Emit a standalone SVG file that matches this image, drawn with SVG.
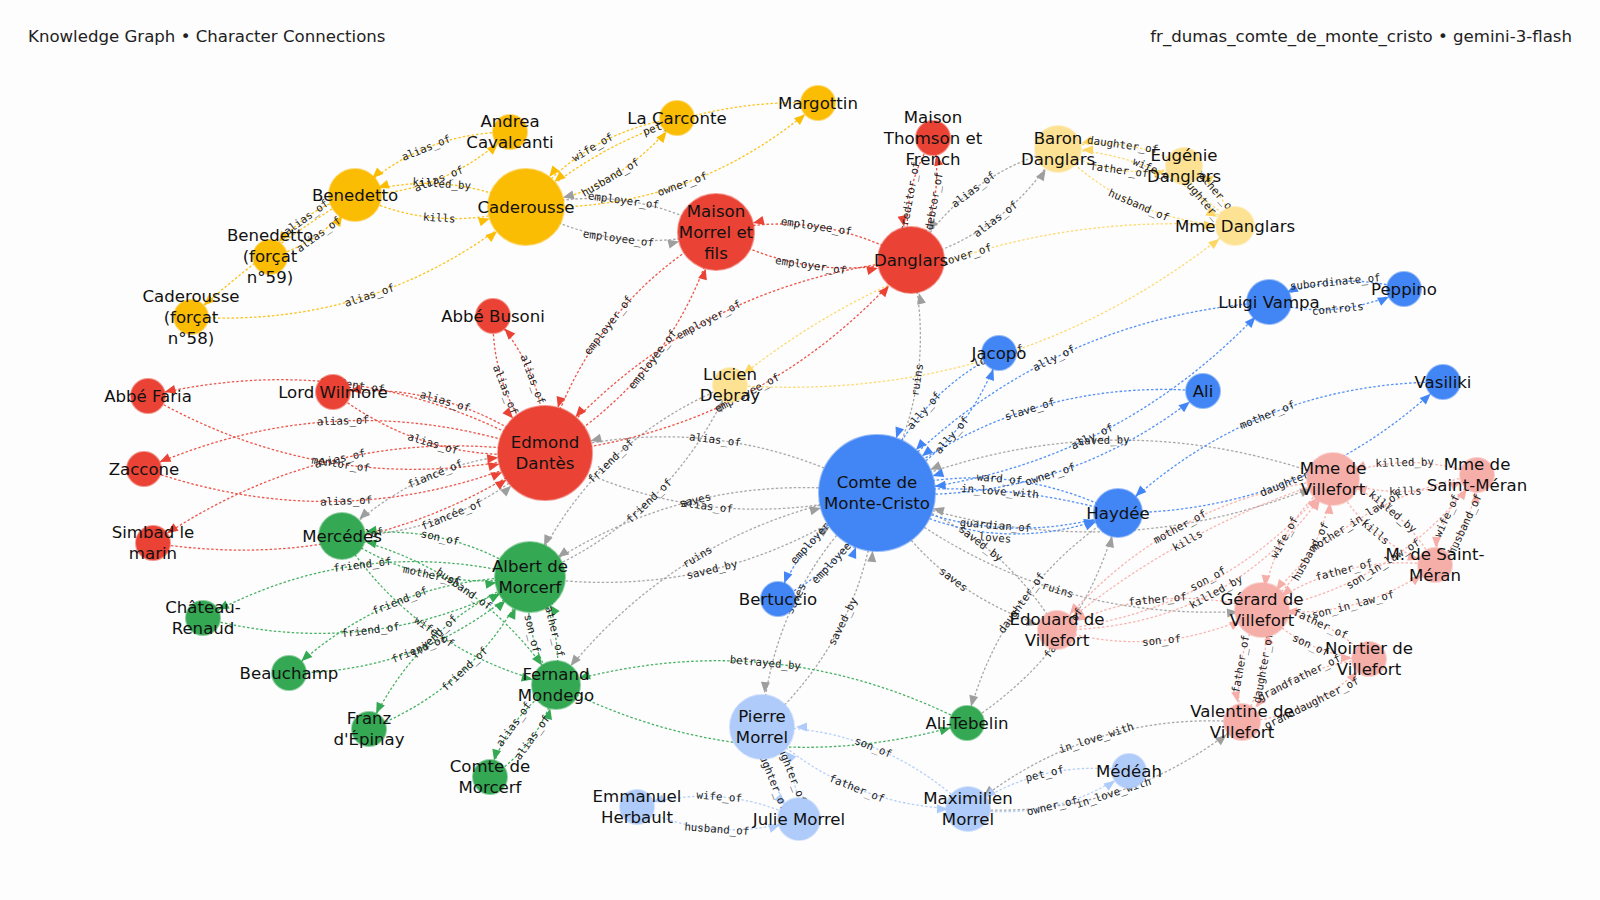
<svg xmlns="http://www.w3.org/2000/svg" width="1600" height="900" viewBox="0 0 1600 900">
<style>
.e{fill:none;stroke-width:1.3;stroke-dasharray:2.5 2;stroke-opacity:.9}
.yo{stroke:#fbbc04}.gy{stroke:#9e9e9e}.rd{stroke:#ea4335}.py{stroke:#fdd663}.bl{stroke:#4285f4}.gn{stroke:#34a853}.lb{stroke:#aecbfa}.pk{stroke:#f6aea9}
.el{font-family:"DejaVu Sans Mono","Liberation Mono",monospace;font-size:10.8px;fill:#222;text-anchor:middle;dominant-baseline:central}
.nl{font-family:"DejaVu Sans","Liberation Sans",sans-serif;font-size:16.6px;fill:#111;text-anchor:middle;dominant-baseline:central}
.n circle{stroke-width:2;stroke-opacity:.55}
.cyo{fill:#fbbc04;stroke:#fbbc04}.crd{fill:#ea4335;stroke:#ea4335}.cpy{fill:#fde293;stroke:#fde293}.cbl{fill:#4285f4;stroke:#4285f4}.cgn{fill:#34a853;stroke:#34a853}.clb{fill:#aecbfa;stroke:#aecbfa}.cpk{fill:#f6aea9;stroke:#f6aea9}
.title{font-family:"DejaVu Sans","Liberation Sans",sans-serif;font-size:16.6px;fill:#222;dominant-baseline:central}
</style>
<defs>
<marker id="yo17" markerUnits="userSpaceOnUse" orient="auto" overflow="visible" markerWidth="10" markerHeight="10"><path d="M-28,-4.5L-17,0L-28,4.5z" fill="#fbbc04"/></marker>
<marker id="yo24" markerUnits="userSpaceOnUse" orient="auto" overflow="visible" markerWidth="10" markerHeight="10"><path d="M-35,-4.5L-24,0L-35,4.5z" fill="#fbbc04"/></marker>
<marker id="yo38" markerUnits="userSpaceOnUse" orient="auto" overflow="visible" markerWidth="10" markerHeight="10"><path d="M-49,-4.5L-38,0L-49,4.5z" fill="#fbbc04"/></marker>
<marker id="gy17" markerUnits="userSpaceOnUse" orient="auto" overflow="visible" markerWidth="10" markerHeight="10"><path d="M-28,-4.5L-17,0L-28,4.5z" fill="#9e9e9e"/></marker>
<marker id="gy20" markerUnits="userSpaceOnUse" orient="auto" overflow="visible" markerWidth="10" markerHeight="10"><path d="M-31,-4.5L-20,0L-31,4.5z" fill="#9e9e9e"/></marker>
<marker id="gy24" markerUnits="userSpaceOnUse" orient="auto" overflow="visible" markerWidth="10" markerHeight="10"><path d="M-35,-4.5L-24,0L-35,4.5z" fill="#9e9e9e"/></marker>
<marker id="gy34" markerUnits="userSpaceOnUse" orient="auto" overflow="visible" markerWidth="10" markerHeight="10"><path d="M-45,-4.5L-34,0L-45,4.5z" fill="#9e9e9e"/></marker>
<marker id="gy38" markerUnits="userSpaceOnUse" orient="auto" overflow="visible" markerWidth="10" markerHeight="10"><path d="M-49,-4.5L-38,0L-49,4.5z" fill="#9e9e9e"/></marker>
<marker id="gy47" markerUnits="userSpaceOnUse" orient="auto" overflow="visible" markerWidth="10" markerHeight="10"><path d="M-58,-4.5L-47,0L-58,4.5z" fill="#9e9e9e"/></marker>
<marker id="gy58" markerUnits="userSpaceOnUse" orient="auto" overflow="visible" markerWidth="10" markerHeight="10"><path d="M-69,-4.5L-58,0L-69,4.5z" fill="#9e9e9e"/></marker>
<marker id="rd17" markerUnits="userSpaceOnUse" orient="auto" overflow="visible" markerWidth="10" markerHeight="10"><path d="M-28,-4.5L-17,0L-28,4.5z" fill="#ea4335"/></marker>
<marker id="rd34" markerUnits="userSpaceOnUse" orient="auto" overflow="visible" markerWidth="10" markerHeight="10"><path d="M-45,-4.5L-34,0L-45,4.5z" fill="#ea4335"/></marker>
<marker id="rd38" markerUnits="userSpaceOnUse" orient="auto" overflow="visible" markerWidth="10" markerHeight="10"><path d="M-49,-4.5L-38,0L-49,4.5z" fill="#ea4335"/></marker>
<marker id="rd47" markerUnits="userSpaceOnUse" orient="auto" overflow="visible" markerWidth="10" markerHeight="10"><path d="M-58,-4.5L-47,0L-58,4.5z" fill="#ea4335"/></marker>
<marker id="py17" markerUnits="userSpaceOnUse" orient="auto" overflow="visible" markerWidth="10" markerHeight="10"><path d="M-28,-4.5L-17,0L-28,4.5z" fill="#fdd663"/></marker>
<marker id="py20" markerUnits="userSpaceOnUse" orient="auto" overflow="visible" markerWidth="10" markerHeight="10"><path d="M-31,-4.5L-20,0L-31,4.5z" fill="#fdd663"/></marker>
<marker id="py24" markerUnits="userSpaceOnUse" orient="auto" overflow="visible" markerWidth="10" markerHeight="10"><path d="M-35,-4.5L-24,0L-35,4.5z" fill="#fdd663"/></marker>
<marker id="bl17" markerUnits="userSpaceOnUse" orient="auto" overflow="visible" markerWidth="10" markerHeight="10"><path d="M-28,-4.5L-17,0L-28,4.5z" fill="#4285f4"/></marker>
<marker id="bl20" markerUnits="userSpaceOnUse" orient="auto" overflow="visible" markerWidth="10" markerHeight="10"><path d="M-31,-4.5L-20,0L-31,4.5z" fill="#4285f4"/></marker>
<marker id="bl24" markerUnits="userSpaceOnUse" orient="auto" overflow="visible" markerWidth="10" markerHeight="10"><path d="M-35,-4.5L-24,0L-35,4.5z" fill="#4285f4"/></marker>
<marker id="bl58" markerUnits="userSpaceOnUse" orient="auto" overflow="visible" markerWidth="10" markerHeight="10"><path d="M-69,-4.5L-58,0L-69,4.5z" fill="#4285f4"/></marker>
<marker id="gn17" markerUnits="userSpaceOnUse" orient="auto" overflow="visible" markerWidth="10" markerHeight="10"><path d="M-28,-4.5L-17,0L-28,4.5z" fill="#34a853"/></marker>
<marker id="gn24" markerUnits="userSpaceOnUse" orient="auto" overflow="visible" markerWidth="10" markerHeight="10"><path d="M-35,-4.5L-24,0L-35,4.5z" fill="#34a853"/></marker>
<marker id="gn34" markerUnits="userSpaceOnUse" orient="auto" overflow="visible" markerWidth="10" markerHeight="10"><path d="M-45,-4.5L-34,0L-45,4.5z" fill="#34a853"/></marker>
<marker id="lb17" markerUnits="userSpaceOnUse" orient="auto" overflow="visible" markerWidth="10" markerHeight="10"><path d="M-28,-4.5L-17,0L-28,4.5z" fill="#aecbfa"/></marker>
<marker id="lb20" markerUnits="userSpaceOnUse" orient="auto" overflow="visible" markerWidth="10" markerHeight="10"><path d="M-31,-4.5L-20,0L-31,4.5z" fill="#aecbfa"/></marker>
<marker id="lb34" markerUnits="userSpaceOnUse" orient="auto" overflow="visible" markerWidth="10" markerHeight="10"><path d="M-45,-4.5L-34,0L-45,4.5z" fill="#aecbfa"/></marker>
<marker id="pk17" markerUnits="userSpaceOnUse" orient="auto" overflow="visible" markerWidth="10" markerHeight="10"><path d="M-28,-4.5L-17,0L-28,4.5z" fill="#f6aea9"/></marker>
<marker id="pk20" markerUnits="userSpaceOnUse" orient="auto" overflow="visible" markerWidth="10" markerHeight="10"><path d="M-31,-4.5L-20,0L-31,4.5z" fill="#f6aea9"/></marker>
<marker id="pk24" markerUnits="userSpaceOnUse" orient="auto" overflow="visible" markerWidth="10" markerHeight="10"><path d="M-35,-4.5L-24,0L-35,4.5z" fill="#f6aea9"/></marker>
</defs>
<rect width="1600" height="900" fill="#fdfdfd"/>
<text class="title" x="28" y="36">Knowledge Graph • Character Connections</text>
<text class="title" x="1572" y="36" text-anchor="end">fr_dumas_comte_de_monte_cristo • gemini-3-flash</text>
<g id="connectors">
<path class="e yo" d="M510,132 Q419.9,132.5 355,195" marker-end="url(#yo24)"/>
<path class="e yo" d="M355,195 Q445.1,194.5 510,132" marker-end="url(#yo17)"/>
<path class="e yo" d="M526,207 Q442.9,166.8 355,195" marker-end="url(#yo24)"/>
<path class="e yo" d="M355,195 Q438.1,235.2 526,207" marker-end="url(#yo38)"/>
<path class="e yo" d="M270,257 Q324.9,243 355,195" marker-end="url(#yo24)"/>
<path class="e yo" d="M355,195 Q300.1,209 270,257" marker-end="url(#yo17)"/>
<path class="e yo" d="M355,195 Q270,245 191,317" marker-end="url(#yo17)"/>
<path class="e yo" d="M191,317 Q380.5,329 526,207" marker-end="url(#yo38)"/>
<path class="e yo" d="M677,118 Q583.7,132.3 526,207" marker-end="url(#yo38)"/>
<path class="e yo" d="M526,207 Q619.3,192.7 677,118" marker-end="url(#yo17)"/>
<path class="e yo" d="M526,207 Q692.8,213.4 818,103" marker-end="url(#yo17)"/>
<path class="e yo" d="M818,103 Q651.2,96.6 526,207" marker-end="url(#yo38)"/>
<path class="e gy" d="M716,232 Q626,181.5 526,207" marker-end="url(#gy38)"/>
<path class="e gy" d="M526,207 Q616,257.5 716,232" marker-end="url(#gy38)"/>
<path class="e gy" d="M1058,149 Q962.3,175.1 911,260" marker-end="url(#gy34)"/>
<path class="e gy" d="M911,260 Q1006.7,233.9 1058,149" marker-end="url(#gy24)"/>
<path class="e gy" d="M730,385 Q591.6,441 530,577" marker-end="url(#gy34)"/>
<path class="e gy" d="M530,577 Q668.4,521 730,385" marker-end="url(#gy17)"/>
<path class="e gy" d="M545,453 Q426.9,453.9 342,536" marker-end="url(#gy24)"/>
<path class="e gy" d="M342,536 Q460.1,535.1 545,453" marker-end="url(#gy47)"/>
<path class="e gy" d="M877,493 Q719,406.6 545,453" marker-end="url(#gy47)"/>
<path class="e gy" d="M545,453 Q703,539.4 877,493" marker-end="url(#gy58)"/>
<path class="e gy" d="M530,577 Q720.3,604.4 877,493" marker-end="url(#gy58)"/>
<path class="e gy" d="M877,493 Q686.7,465.6 530,577" marker-end="url(#gy34)"/>
<path class="e gy" d="M877,493 Q678.1,524.8 556,685" marker-end="url(#gy24)"/>
<path class="e gy" d="M877,493 Q940.6,383.3 911,260" marker-end="url(#gy34)"/>
<path class="e gy" d="M1333,479 Q1102.2,394.8 877,493" marker-end="url(#gy58)"/>
<path class="e gy" d="M877,493 Q1107.8,577.2 1333,479" marker-end="url(#gy24)"/>
<path class="e gy" d="M762,727 Q866.3,633 877,493" marker-end="url(#gy58)"/>
<path class="e gy" d="M877,493 Q772.7,587 762,727" marker-end="url(#gy34)"/>
<path class="e gy" d="M1118,513 Q1000.5,587.8 967,723" marker-end="url(#gy17)"/>
<path class="e gy" d="M967,723 Q1084.5,648.2 1118,513" marker-end="url(#gy24)"/>
<path class="e gy" d="M877,493 Q939.6,597.5 1057,630" marker-end="url(#gy20)"/>
<path class="e gy" d="M1057,630 Q994.4,525.5 877,493" marker-end="url(#gy58)"/>
<path class="e gy" d="M877,493 Q1046.1,628.5 1262,610" marker-end="url(#gy24)"/>
<path class="e gy" d="M968,809 Q1122.4,820.3 1242,722" marker-end="url(#gy20)"/>
<path class="e gy" d="M1242,722 Q1087.6,710.7 968,809" marker-end="url(#gy20)"/>
<path class="e rd" d="M911,260 Q819.1,207 716,232" marker-end="url(#rd38)"/>
<path class="e rd" d="M716,232 Q807.9,285 911,260" marker-end="url(#rd34)"/>
<path class="e rd" d="M933,138 Q897.6,194.6 911,260" marker-end="url(#rd34)"/>
<path class="e rd" d="M911,260 Q946.4,203.4 933,138" marker-end="url(#rd17)"/>
<path class="e rd" d="M911,260 Q689.4,283.3 545,453" marker-end="url(#rd47)"/>
<path class="e rd" d="M545,453 Q766.6,429.7 911,260" marker-end="url(#rd34)"/>
<path class="e rd" d="M716,232 Q586.3,308.3 545,453" marker-end="url(#rd47)"/>
<path class="e rd" d="M545,453 Q674.7,376.7 716,232" marker-end="url(#rd38)"/>
<path class="e rd" d="M545,453 Q357.9,345.1 148,396" marker-end="url(#rd17)"/>
<path class="e rd" d="M148,396 Q335.1,503.9 545,453" marker-end="url(#rd47)"/>
<path class="e rd" d="M333,392 Q426.8,464.9 545,453" marker-end="url(#rd47)"/>
<path class="e rd" d="M545,453 Q451.2,380.1 333,392" marker-end="url(#rd17)"/>
<path class="e rd" d="M144,469 Q347.7,541.2 545,453" marker-end="url(#rd47)"/>
<path class="e rd" d="M545,453 Q341.3,380.8 144,469" marker-end="url(#rd17)"/>
<path class="e rd" d="M153,543 Q367,576.4 545,453" marker-end="url(#rd47)"/>
<path class="e rd" d="M545,453 Q331,419.6 153,543" marker-end="url(#rd17)"/>
<path class="e rd" d="M493,316 Q491.6,394.9 545,453" marker-end="url(#rd47)"/>
<path class="e rd" d="M545,453 Q546.4,374.1 493,316" marker-end="url(#rd17)"/>
<path class="e py" d="M1235,226 Q950.7,204.5 730,385" marker-end="url(#py17)"/>
<path class="e py" d="M730,385 Q1014.3,406.5 1235,226" marker-end="url(#py20)"/>
<path class="e py" d="M1184,166 Q1124.4,132.3 1058,149" marker-end="url(#py24)"/>
<path class="e py" d="M1058,149 Q1117.6,182.7 1184,166" marker-end="url(#py20)"/>
<path class="e py" d="M1235,226 Q1161.9,152.1 1058,149" marker-end="url(#py24)"/>
<path class="e py" d="M1058,149 Q1131.1,222.9 1235,226" marker-end="url(#py20)"/>
<path class="e py" d="M1235,226 Q1221.5,185.8 1184,166" marker-end="url(#py20)"/>
<path class="e py" d="M1184,166 Q1197.5,206.2 1235,226" marker-end="url(#py20)"/>
<path class="e bl" d="M999,353 Q910,398.6 877,493" marker-end="url(#bl58)"/>
<path class="e bl" d="M877,493 Q966,447.4 999,353" marker-end="url(#bl17)"/>
<path class="e bl" d="M1269,302 Q1034.8,319.1 877,493" marker-end="url(#bl58)"/>
<path class="e bl" d="M877,493 Q1111.2,475.9 1269,302" marker-end="url(#bl20)"/>
<path class="e bl" d="M1203,391 Q1019.6,376.8 877,493" marker-end="url(#bl58)"/>
<path class="e bl" d="M877,493 Q1060.4,507.2 1203,391" marker-end="url(#bl17)"/>
<path class="e bl" d="M1118,513 Q1001.5,454.8 877,493" marker-end="url(#bl58)"/>
<path class="e bl" d="M1118,513 Q999.5,478.9 877,493" marker-end="url(#bl58)"/>
<path class="e bl" d="M877,493 Q993.5,551.2 1118,513" marker-end="url(#bl24)"/>
<path class="e bl" d="M877,493 Q992.5,563.3 1118,513" marker-end="url(#bl24)"/>
<path class="e bl" d="M1443,382 Q1254.3,382.5 1118,513" marker-end="url(#bl24)"/>
<path class="e bl" d="M1118,513 Q1306.7,512.5 1443,382" marker-end="url(#bl17)"/>
<path class="e bl" d="M1404,289 Q1333.9,268.5 1269,302" marker-end="url(#bl20)"/>
<path class="e bl" d="M1269,302 Q1339.1,322.5 1404,289" marker-end="url(#bl17)"/>
<path class="e bl" d="M778,599 Q848.7,565.8 877,493" marker-end="url(#bl58)"/>
<path class="e bl" d="M877,493 Q806.3,526.2 778,599" marker-end="url(#bl17)"/>
<path class="e gn" d="M342,536 Q427.8,594.1 530,577" marker-end="url(#gn34)"/>
<path class="e gn" d="M530,577 Q444.2,518.9 342,536" marker-end="url(#gn24)"/>
<path class="e gn" d="M556,685 Q478.8,567.7 342,536" marker-end="url(#gn24)"/>
<path class="e gn" d="M342,536 Q419.2,653.3 556,685" marker-end="url(#gn24)"/>
<path class="e gn" d="M556,685 Q564.6,625.8 530,577" marker-end="url(#gn34)"/>
<path class="e gn" d="M530,577 Q521.4,636.2 556,685" marker-end="url(#gn24)"/>
<path class="e gn" d="M530,577 Q358.3,532.1 203,618" marker-end="url(#gn17)"/>
<path class="e gn" d="M203,618 Q374.7,662.9 530,577" marker-end="url(#gn34)"/>
<path class="e gn" d="M530,577 Q390.3,576.8 289,673" marker-end="url(#gn17)"/>
<path class="e gn" d="M289,673 Q428.7,673.2 530,577" marker-end="url(#gn34)"/>
<path class="e gn" d="M530,577 Q419.1,620.8 369,729" marker-end="url(#gn17)"/>
<path class="e gn" d="M369,729 Q479.9,685.2 530,577" marker-end="url(#gn34)"/>
<path class="e gn" d="M490,777 Q541.4,744.2 556,685" marker-end="url(#gn24)"/>
<path class="e gn" d="M556,685 Q504.6,717.8 490,777" marker-end="url(#gn17)"/>
<path class="e gn" d="M967,723 Q769.1,621.8 556,685" marker-end="url(#gn24)"/>
<path class="e gn" d="M556,685 Q753.9,786.2 967,723" marker-end="url(#gn17)"/>
<path class="e lb" d="M762,727 Q762.1,780.4 799,819" marker-end="url(#lb20)"/>
<path class="e lb" d="M799,819 Q798.9,765.6 762,727" marker-end="url(#lb34)"/>
<path class="e lb" d="M762,727 Q848.6,809.2 968,809" marker-end="url(#lb20)"/>
<path class="e lb" d="M968,809 Q881.4,726.8 762,727" marker-end="url(#lb34)"/>
<path class="e lb" d="M637,807 Q715.6,845.4 799,819" marker-end="url(#lb20)"/>
<path class="e lb" d="M799,819 Q720.4,780.6 637,807" marker-end="url(#lb17)"/>
<path class="e lb" d="M968,809 Q1056.1,822.2 1129,771" marker-end="url(#lb17)"/>
<path class="e lb" d="M1129,771 Q1040.9,757.8 968,809" marker-end="url(#lb20)"/>
<path class="e pk" d="M1333,479 Q1271.3,530.3 1262,610" marker-end="url(#pk24)"/>
<path class="e pk" d="M1262,610 Q1323.7,558.7 1333,479" marker-end="url(#pk24)"/>
<path class="e pk" d="M1477,475 Q1404.2,448.2 1333,479" marker-end="url(#pk24)"/>
<path class="e pk" d="M1333,479 Q1405.8,505.8 1477,475" marker-end="url(#pk17)"/>
<path class="e pk" d="M1333,479 Q1366.8,542.4 1435,565" marker-end="url(#pk17)"/>
<path class="e pk" d="M1435,565 Q1401.2,501.6 1333,479" marker-end="url(#pk24)"/>
<path class="e pk" d="M1477,475 Q1438,511.6 1435,565" marker-end="url(#pk17)"/>
<path class="e pk" d="M1435,565 Q1474,528.4 1477,475" marker-end="url(#pk17)"/>
<path class="e pk" d="M1477,475 Q1342.5,499.5 1262,610" marker-end="url(#pk24)"/>
<path class="e pk" d="M1262,610 Q1396.5,585.5 1477,475" marker-end="url(#pk17)"/>
<path class="e pk" d="M1435,565 Q1339.5,552.9 1262,610" marker-end="url(#pk24)"/>
<path class="e pk" d="M1262,610 Q1357.5,622.1 1435,565" marker-end="url(#pk17)"/>
<path class="e pk" d="M1057,630 Q1163.5,661 1262,610" marker-end="url(#pk24)"/>
<path class="e pk" d="M1262,610 Q1155.5,579 1057,630" marker-end="url(#pk20)"/>
<path class="e pk" d="M1333,479 Q1164.8,499.3 1057,630" marker-end="url(#pk20)"/>
<path class="e pk" d="M1333,479 Q1179.9,526.9 1057,630" marker-end="url(#pk20)"/>
<path class="e pk" d="M1057,630 Q1225.2,609.7 1333,479" marker-end="url(#pk24)"/>
<path class="e pk" d="M1057,630 Q1235.8,629 1333,479" marker-end="url(#pk24)"/>
<path class="e pk" d="M1262,610 Q1229.6,662 1242,722" marker-end="url(#pk20)"/>
<path class="e pk" d="M1242,722 Q1274.4,670 1262,610" marker-end="url(#pk24)"/>
<path class="e pk" d="M1369,659 Q1292.9,665.1 1242,722" marker-end="url(#pk20)"/>
<path class="e pk" d="M1242,722 Q1318.1,715.9 1369,659" marker-end="url(#pk17)"/>
<path class="e pk" d="M1369,659 Q1325.3,613.1 1262,610" marker-end="url(#pk24)"/>
<path class="e pk" d="M1262,610 Q1305.7,655.9 1369,659" marker-end="url(#pk17)"/>
</g>
<g id="connector-labels">
<text class="el" transform="translate(426.2,148) rotate(-22.1)">alias_of</text>
<text class="el" transform="translate(438.8,179) rotate(-22.1)">alias_of</text>
<text class="el" transform="translate(441.7,183.9) rotate(4)">killed_by</text>
<text class="el" transform="translate(439.3,218.1) rotate(4)">kills</text>
<text class="el" transform="translate(318.7,234.5) rotate(-36.1)">alias_of</text>
<text class="el" transform="translate(306.3,217.5) rotate(-36.1)">alias_of</text>
<text class="el" transform="translate(369.5,295.5) rotate(-18.2)">alias_of</text>
<text class="el" transform="translate(592.6,147.4) rotate(-30.5)">wife_of</text>
<text class="el" transform="translate(610.4,177.6) rotate(-30.5)">husband_of</text>
<text class="el" transform="translate(682.4,184.2) rotate(-19.6)">owner_of</text>
<text class="el" transform="translate(661.6,125.8) rotate(-19.6)">pet_of</text>
<text class="el" transform="translate(623.5,200.5) rotate(7.5)">employer_of</text>
<text class="el" transform="translate(618.5,238.5) rotate(7.5)">employee_of</text>
<text class="el" transform="translate(973.4,189.8) rotate(-37.1)">alias_of</text>
<text class="el" transform="translate(995.6,219.2) rotate(-37.1)">alias_of</text>
<text class="el" transform="translate(610.8,461) rotate(-43.8)">friend_of</text>
<text class="el" transform="translate(649.2,501) rotate(-43.8)">friend_of</text>
<text class="el" transform="translate(435.2,474.2) rotate(-22.2)">fiancé_of</text>
<text class="el" transform="translate(451.8,514.8) rotate(-22.2)">fiancée_of</text>
<text class="el" transform="translate(715,439.8) rotate(6.9)">alias_of</text>
<text class="el" transform="translate(707,506.2) rotate(6.9)">alias_of</text>
<text class="el" transform="translate(711.9,569.7) rotate(-13.6)">saved_by</text>
<text class="el" transform="translate(695.1,500.3) rotate(-13.6)">saves</text>
<text class="el" transform="translate(697.3,556.9) rotate(-30.9)">ruins</text>
<text class="el" transform="translate(917.3,379.9) rotate(-81.7)">ruins</text>
<text class="el" transform="translate(1103.6,440.4) rotate(-1.8)">saved_by</text>
<text class="el" transform="translate(842.9,621.5) rotate(-63.8)">saved_by</text>
<text class="el" transform="translate(796.1,598.5) rotate(-63.8)">saves</text>
<text class="el" transform="translate(1021.5,602.9) rotate(-54.3)">daughter_of</text>
<text class="el" transform="translate(1063.5,633.1) rotate(-54.3)">father_of</text>
<text class="el" transform="translate(953.3,579.5) rotate(37.3)">saves</text>
<text class="el" transform="translate(980.7,543.5) rotate(37.3)">saved_by</text>
<text class="el" transform="translate(1057.8,590) rotate(16.9)">ruins</text>
<text class="el" transform="translate(1113.7,792.9) rotate(-17.6)">in_love_with</text>
<text class="el" transform="translate(1096.3,738.1) rotate(-17.6)">in_love_with</text>
<text class="el" transform="translate(816.3,226.5) rotate(8.2)">employee_of</text>
<text class="el" transform="translate(810.7,265.5) rotate(8.2)">employer_of</text>
<text class="el" transform="translate(909.8,196.8) rotate(-79.8)">creditor_of</text>
<text class="el" transform="translate(934.2,201.2) rotate(-79.8)">debtor_of</text>
<text class="el" transform="translate(708.7,319.9) rotate(-27.8)">employer_of</text>
<text class="el" transform="translate(747.3,393.1) rotate(-27.8)">employee_of</text>
<text class="el" transform="translate(608.4,325.4) rotate(-52.3)">employer_of</text>
<text class="el" transform="translate(652.6,359.6) rotate(-52.3)">employee_of</text>
<text class="el" transform="translate(352.2,384.8) rotate(8.2)">student_of</text>
<text class="el" transform="translate(340.8,464.2) rotate(8.2)">mentor_of</text>
<text class="el" transform="translate(432.9,443.7) rotate(16.1)">alias_of</text>
<text class="el" transform="translate(445.1,401.3) rotate(16.1)">alias_of</text>
<text class="el" transform="translate(346.1,501.1) rotate(-2.3)">alias_of</text>
<text class="el" transform="translate(342.9,420.9) rotate(-2.3)">alias_of</text>
<text class="el" transform="translate(358,537.2) rotate(-12.9)">alias_of</text>
<text class="el" transform="translate(340,458.8) rotate(-12.9)">alias_of</text>
<text class="el" transform="translate(505.3,389.7) rotate(69.2)">alias_of</text>
<text class="el" transform="translate(532.7,379.3) rotate(69.2)">alias_of</text>
<text class="el" transform="translate(966.6,255) rotate(-17.5)">lover_of</text>
<text class="el" transform="translate(998.4,356) rotate(-17.5)">lover_of</text>
<text class="el" transform="translate(1122.7,144.9) rotate(7.7)">daughter_of</text>
<text class="el" transform="translate(1119.3,170.1) rotate(7.7)">father_of</text>
<text class="el" transform="translate(1154.2,169.8) rotate(23.5)">wife_of</text>
<text class="el" transform="translate(1138.8,205.2) rotate(23.5)">husband_of</text>
<text class="el" transform="translate(1215.5,190.9) rotate(49.6)">mother_of</text>
<text class="el" transform="translate(1203.5,201.1) rotate(49.6)">daughter_of</text>
<text class="el" transform="translate(924,410.8) rotate(-48.9)">ally_of</text>
<text class="el" transform="translate(952,435.2) rotate(-48.9)">ally_of</text>
<text class="el" transform="translate(1053.9,358.3) rotate(-26)">ally_of</text>
<text class="el" transform="translate(1092.1,436.7) rotate(-26)">ally_of</text>
<text class="el" transform="translate(1029.8,409.4) rotate(-17.4)">slave_of</text>
<text class="el" transform="translate(1050.2,474.6) rotate(-17.4)">owner_of</text>
<text class="el" transform="translate(999.5,478.9) rotate(4.7)">ward_of</text>
<text class="el" transform="translate(1000,491.5) rotate(4.7)">in_love_with</text>
<text class="el" transform="translate(995.5,525.5) rotate(4.7)">guardian_of</text>
<text class="el" transform="translate(995,538) rotate(4.7)">loves</text>
<text class="el" transform="translate(1267.4,415) rotate(-22)">mother_of</text>
<text class="el" transform="translate(1293.6,480) rotate(-22)">daughter_of</text>
<text class="el" transform="translate(1335.2,282) rotate(-5.5)">subordinate_of</text>
<text class="el" transform="translate(1337.8,309) rotate(-5.5)">controls</text>
<text class="el" transform="translate(838.1,555.9) rotate(-47)">employee_of</text>
<text class="el" transform="translate(816.9,536.1) rotate(-47)">employer_of</text>
<text class="el" transform="translate(431.9,575.3) rotate(12.3)">mother_of</text>
<text class="el" transform="translate(440.1,537.7) rotate(12.3)">son_of</text>
<text class="el" transform="translate(463.9,589.1) rotate(34.8)">husband_of</text>
<text class="el" transform="translate(434.1,631.9) rotate(34.8)">wife_of</text>
<text class="el" transform="translate(553.8,628.4) rotate(76.5)">father_of</text>
<text class="el" transform="translate(532.2,633.6) rotate(76.5)">son_of</text>
<text class="el" transform="translate(362.4,564.8) rotate(-7.1)">friend_of</text>
<text class="el" transform="translate(370.6,630.2) rotate(-7.1)">friend_of</text>
<text class="el" transform="translate(399.9,600.9) rotate(-21.7)">friend_of</text>
<text class="el" transform="translate(419.1,649.1) rotate(-21.7)">friend_of</text>
<text class="el" transform="translate(434.3,636.9) rotate(-43.4)">friend_of</text>
<text class="el" transform="translate(464.7,669.1) rotate(-43.4)">friend_of</text>
<text class="el" transform="translate(532.2,737.6) rotate(-54.3)">alias_of</text>
<text class="el" transform="translate(513.8,724.4) rotate(-54.3)">alias_of</text>
<text class="el" transform="translate(765.3,662.9) rotate(5.3)">betrayed_by</text>
<text class="el" transform="translate(771.3,776.7) rotate(68.1)">daughter_of</text>
<text class="el" transform="translate(789.7,769.3) rotate(68.1)">daughter_of</text>
<text class="el" transform="translate(856.8,788.6) rotate(21.7)">father_of</text>
<text class="el" transform="translate(873.2,747.4) rotate(21.7)">son_of</text>
<text class="el" transform="translate(716.8,829.2) rotate(4.2)">husband_of</text>
<text class="el" transform="translate(719.2,796.8) rotate(4.2)">wife_of</text>
<text class="el" transform="translate(1052.3,806.1) rotate(-13.3)">owner_of</text>
<text class="el" transform="translate(1044.7,773.9) rotate(-13.3)">pet_of</text>
<text class="el" transform="translate(1284.4,537.4) rotate(-61.5)">wife_of</text>
<text class="el" transform="translate(1310.6,551.6) rotate(-61.5)">husband_of</text>
<text class="el" transform="translate(1404.6,462.6) rotate(-1.6)">killed_by</text>
<text class="el" transform="translate(1405.4,491.4) rotate(-1.6)">kills</text>
<text class="el" transform="translate(1375.4,532.2) rotate(40.1)">kills</text>
<text class="el" transform="translate(1392.6,511.8) rotate(40.1)">killed_by</text>
<text class="el" transform="translate(1447,515.8) rotate(-65)">wife_of</text>
<text class="el" transform="translate(1465,524.2) rotate(-65)">husband_of</text>
<text class="el" transform="translate(1356,521) rotate(-32.1)">mother_in_law_of</text>
<text class="el" transform="translate(1383,564) rotate(-32.1)">son_in_law_of</text>
<text class="el" transform="translate(1344,570.2) rotate(-14.6)">father_of</text>
<text class="el" transform="translate(1353,604.8) rotate(-14.6)">son_in_law_of</text>
<text class="el" transform="translate(1161.5,640.5) rotate(-5.6)">son_of</text>
<text class="el" transform="translate(1157.5,599.5) rotate(-5.6)">father_of</text>
<text class="el" transform="translate(1179.9,526.9) rotate(-28.7)">mother_of</text>
<text class="el" transform="translate(1187.5,540.7) rotate(-28.7)">kills</text>
<text class="el" transform="translate(1208,579) rotate(-28.7)">son_of</text>
<text class="el" transform="translate(1216,592) rotate(-28.7)">killed_by</text>
<text class="el" transform="translate(1240.8,664) rotate(-79.9)">father_of</text>
<text class="el" transform="translate(1263.2,668) rotate(-79.9)">daughter_of</text>
<text class="el" transform="translate(1299.2,677.8) rotate(-26.4)">grandfather_of</text>
<text class="el" transform="translate(1311.8,703.2) rotate(-26.4)">granddaughter_of</text>
<text class="el" transform="translate(1320.4,623.8) rotate(24.6)">father_of</text>
<text class="el" transform="translate(1310.6,645.2) rotate(24.6)">son_of</text>
</g>
<g id="n-ben" class="n"><circle class="cyo" cx="355" cy="195" r="26"/><text class="nl" x="355" y="195">Benedetto</text></g>
<g id="n-benf" class="n"><circle class="cyo" cx="270" cy="257" r="17"/><text class="nl" x="270" y="235">Benedetto</text><text class="nl" x="270" y="256">(forçat</text><text class="nl" x="270" y="277">n°59)</text></g>
<g id="n-cadf" class="n"><circle class="cyo" cx="191" cy="317" r="17"/><text class="nl" x="191" y="296">Caderousse</text><text class="nl" x="191" y="317">(forçat</text><text class="nl" x="191" y="338">n°58)</text></g>
<g id="n-and" class="n"><circle class="cyo" cx="510" cy="132" r="17"/><text class="nl" x="510" y="121.5">Andrea</text><text class="nl" x="510" y="142.5">Cavalcanti</text></g>
<g id="n-car" class="n"><circle class="cyo" cx="677" cy="118" r="17"/><text class="nl" x="677" y="118">La Carconte</text></g>
<g id="n-mar" class="n"><circle class="cyo" cx="818" cy="103" r="17"/><text class="nl" x="818" y="103">Margottin</text></g>
<g id="n-cad" class="n"><circle class="cyo" cx="526" cy="207" r="38"/><text class="nl" x="526" y="207">Caderousse</text></g>
<g id="n-mmf" class="n"><circle class="crd" cx="716" cy="232" r="38"/><text class="nl" x="716" y="211">Maison</text><text class="nl" x="716" y="232">Morrel et</text><text class="nl" x="716" y="253">fils</text></g>
<g id="n-bus" class="n"><circle class="crd" cx="493" cy="316" r="17"/><text class="nl" x="493" y="316">Abbé Busoni</text></g>
<g id="n-mtf" class="n"><circle class="crd" cx="933" cy="138" r="17"/><text class="nl" x="933" y="117">Maison</text><text class="nl" x="933" y="138">Thomson et</text><text class="nl" x="933" y="159">French</text></g>
<g id="n-dan" class="n"><circle class="crd" cx="911" cy="260" r="33"/><text class="nl" x="911" y="260">Danglars</text></g>
<g id="n-far" class="n"><circle class="crd" cx="148" cy="396" r="17"/><text class="nl" x="148" y="396">Abbé Faria</text></g>
<g id="n-wil" class="n"><circle class="crd" cx="333" cy="392" r="17"/><text class="nl" x="333" y="392">Lord Wilmore</text></g>
<g id="n-zac" class="n"><circle class="crd" cx="144" cy="469" r="17"/><text class="nl" x="144" y="469">Zaccone</text></g>
<g id="n-sim" class="n"><circle class="crd" cx="153" cy="543" r="17"/><text class="nl" x="153" y="532.5">Simbad le</text><text class="nl" x="153" y="553.5">marin</text></g>
<g id="n-edm" class="n"><circle class="crd" cx="545" cy="453" r="47"/><text class="nl" x="545" y="442.5">Edmond</text><text class="nl" x="545" y="463.5">Dantès</text></g>
<g id="n-bar" class="n"><circle class="cpy" cx="1058" cy="149" r="23"/><text class="nl" x="1058" y="138.5">Baron</text><text class="nl" x="1058" y="159.5">Danglars</text></g>
<g id="n-eug" class="n"><circle class="cpy" cx="1184" cy="166" r="18"/><text class="nl" x="1184" y="155.5">Eugénie</text><text class="nl" x="1184" y="176.5">Danglars</text></g>
<g id="n-mda" class="n"><circle class="cpy" cx="1235" cy="226" r="19"/><text class="nl" x="1235" y="226">Mme Danglars</text></g>
<g id="n-luc" class="n"><circle class="cpy" cx="730" cy="385" r="17"/><text class="nl" x="730" y="374.5">Lucien</text><text class="nl" x="730" y="395.5">Debray</text></g>
<g id="n-mc" class="n"><circle class="cbl" cx="877" cy="493" r="58"/><text class="nl" x="877" y="482.5">Comte de</text><text class="nl" x="877" y="503.5">Monte-Cristo</text></g>
<g id="n-jac" class="n"><circle class="cbl" cx="999" cy="353" r="17"/><text class="nl" x="999" y="353">Jacopo</text></g>
<g id="n-lui" class="n"><circle class="cbl" cx="1269" cy="302" r="22"/><text class="nl" x="1269" y="302">Luigi Vampa</text></g>
<g id="n-pep" class="n"><circle class="cbl" cx="1404" cy="289" r="17"/><text class="nl" x="1404" y="289">Peppino</text></g>
<g id="n-ali" class="n"><circle class="cbl" cx="1203" cy="391" r="17"/><text class="nl" x="1203" y="391">Ali</text></g>
<g id="n-vas" class="n"><circle class="cbl" cx="1443" cy="382" r="17"/><text class="nl" x="1443" y="382">Vasiliki</text></g>
<g id="n-hay" class="n"><circle class="cbl" cx="1118" cy="513" r="24"/><text class="nl" x="1118" y="513">Haydée</text></g>
<g id="n-ber" class="n"><circle class="cbl" cx="778" cy="599" r="17"/><text class="nl" x="778" y="599">Bertuccio</text></g>
<g id="n-mer" class="n"><circle class="cgn" cx="342" cy="536" r="23"/><text class="nl" x="342" y="536">Mercédès</text></g>
<g id="n-alb" class="n"><circle class="cgn" cx="530" cy="577" r="35"/><text class="nl" x="530" y="566.5">Albert de</text><text class="nl" x="530" y="587.5">Morcerf</text></g>
<g id="n-chr" class="n"><circle class="cgn" cx="203" cy="618" r="17"/><text class="nl" x="203" y="607.5">Château-</text><text class="nl" x="203" y="628.5">Renaud</text></g>
<g id="n-bea" class="n"><circle class="cgn" cx="289" cy="673" r="17"/><text class="nl" x="289" y="673">Beauchamp</text></g>
<g id="n-fra" class="n"><circle class="cgn" cx="369" cy="729" r="17"/><text class="nl" x="369" y="718.5">Franz</text><text class="nl" x="369" y="739.5">d'Épinay</text></g>
<g id="n-fer" class="n"><circle class="cgn" cx="556" cy="685" r="24"/><text class="nl" x="556" y="674.5">Fernand</text><text class="nl" x="556" y="695.5">Mondego</text></g>
<g id="n-cdm" class="n"><circle class="cgn" cx="490" cy="777" r="17"/><text class="nl" x="490" y="766.5">Comte de</text><text class="nl" x="490" y="787.5">Morcerf</text></g>
<g id="n-tep" class="n"><circle class="cgn" cx="967" cy="723" r="17"/><text class="nl" x="967" y="723">Ali-Tebelin</text></g>
<g id="n-mvi" class="n"><circle class="cpk" cx="1333" cy="479" r="26"/><text class="nl" x="1333" y="468.5">Mme de</text><text class="nl" x="1333" y="489.5">Villefort</text></g>
<g id="n-msm" class="n"><circle class="cpk" cx="1477" cy="475" r="17"/><text class="nl" x="1477" y="464.5">Mme de</text><text class="nl" x="1477" y="485.5">Saint-Méran</text></g>
<g id="n-msme" class="n"><circle class="cpk" cx="1435" cy="565" r="17"/><text class="nl" x="1435" y="554.5">M. de Saint-</text><text class="nl" x="1435" y="575.5">Méran</text></g>
<g id="n-ger" class="n"><circle class="cpk" cx="1262" cy="610" r="27"/><text class="nl" x="1262" y="599.5">Gérard de</text><text class="nl" x="1262" y="620.5">Villefort</text></g>
<g id="n-edo" class="n"><circle class="cpk" cx="1057" cy="630" r="19"/><text class="nl" x="1057" y="619.5">Édouard de</text><text class="nl" x="1057" y="640.5">Villefort</text></g>
<g id="n-noi" class="n"><circle class="cpk" cx="1369" cy="659" r="17"/><text class="nl" x="1369" y="648.5">Noirtier de</text><text class="nl" x="1369" y="669.5">Villefort</text></g>
<g id="n-val" class="n"><circle class="cpk" cx="1242" cy="722" r="18"/><text class="nl" x="1242" y="711.5">Valentine de</text><text class="nl" x="1242" y="732.5">Villefort</text></g>
<g id="n-pie" class="n"><circle class="clb" cx="762" cy="727" r="32"/><text class="nl" x="762" y="716.5">Pierre</text><text class="nl" x="762" y="737.5">Morrel</text></g>
<g id="n-emm" class="n"><circle class="clb" cx="637" cy="807" r="17"/><text class="nl" x="637" y="796.5">Emmanuel</text><text class="nl" x="637" y="817.5">Herbault</text></g>
<g id="n-jul" class="n"><circle class="clb" cx="799" cy="819" r="21"/><text class="nl" x="799" y="819">Julie Morrel</text></g>
<g id="n-max" class="n"><circle class="clb" cx="968" cy="809" r="22"/><text class="nl" x="968" y="798.5">Maximilien</text><text class="nl" x="968" y="819.5">Morrel</text></g>
<g id="n-med" class="n"><circle class="clb" cx="1129" cy="771" r="17"/><text class="nl" x="1129" y="771">Médéah</text></g>
</svg>
